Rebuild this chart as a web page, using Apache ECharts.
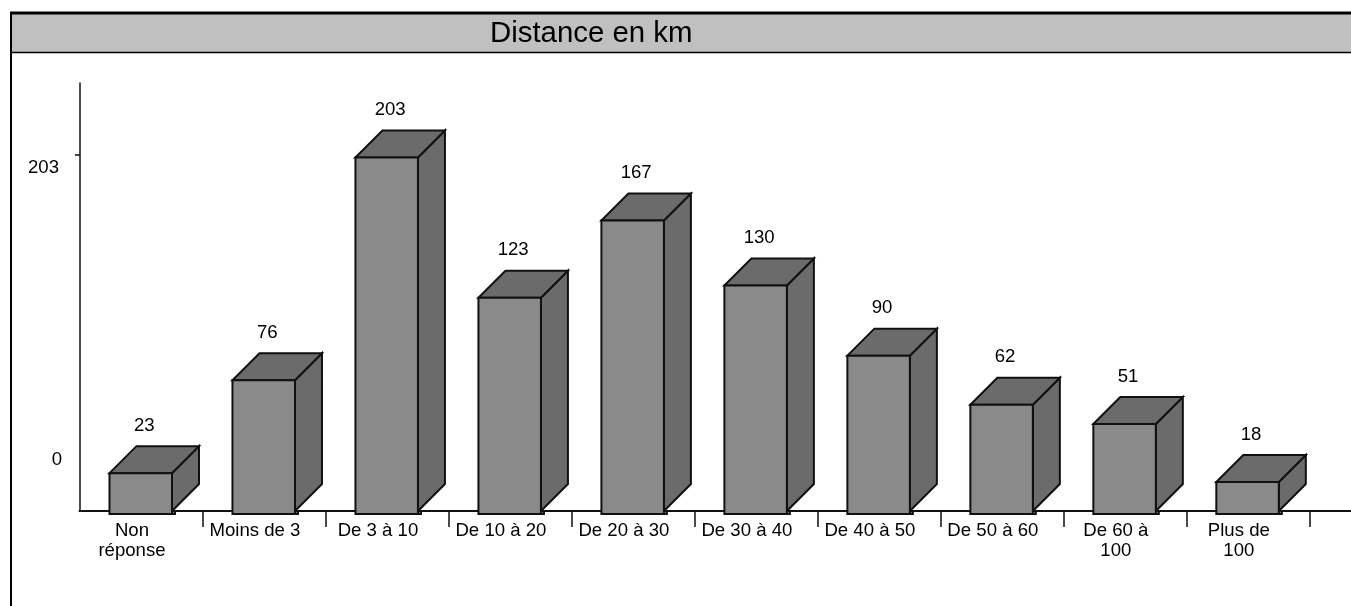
<!DOCTYPE html>
<html>
<head>
<meta charset="utf-8">
<title>Distance en km</title>
<script src="https://cdn.jsdelivr.net/npm/echarts@6/dist/echarts.min.js"></script>
<style>
  html, body { margin: 0; padding: 0; background: #fff; }
  #chart { width: 1351px; height: 606px; }
</style>
</head>
<body>
<div id="chart"></div>
<script>
var titleText = 'Distance en km';
var categories = ['Non\nréponse', 'Moins de 3', 'De 3 à 10', 'De 10 à 20', 'De 20 à 30', 'De 30 à 40', 'De 40 à 50', 'De 50 à 60', 'De 60 à\n100', 'Plus de\n100'];
var values = [23, 76, 203, 123, 167, 130, 90, 62, 51, 18];
var yTicks = [0, 203];

var FONT = '"Liberation Sans", Arial, sans-serif';
var FONT_SIZE = 18.6;
var FRONT = '#8a8a8a';
var SHADE = '#6b6b6b';
var LINE = '#111';

// boite 3D : face avant, dessus, cote droit, petit socle
function renderBox(params, api) {
  var top = api.coord([api.value(0), api.value(1)]);
  var x = top[0] - 31.5;
  var y = top[1] + 2.5;
  var w = 62.5;
  var base = api.coord([api.value(0), 0])[1];
  var bottom = base + 3;
  var d = 27;
  var border = { stroke: LINE, lineWidth: 2, lineJoin: 'miter' };
  return {
    type: 'group',
    children: [
      {
        type: 'rect',
        shape: { x: x + w - 2, y: base, width: 5, height: 3 },
        style: Object.assign({ fill: FRONT }, border)
      },
      {
        type: 'polygon',
        shape: { points: [[x + w, y], [x + w + d, y - d], [x + w + d, base - d], [x + w, base]] },
        style: Object.assign({ fill: SHADE }, border)
      },
      {
        type: 'polygon',
        shape: { points: [[x, y], [x + d, y - d], [x + w + d, y - d], [x + w, y]] },
        style: Object.assign({ fill: SHADE }, border)
      },
      {
        type: 'rect',
        shape: { x: x, y: y, width: w, height: bottom - y },
        style: Object.assign({ fill: FRONT }, border)
      },
      {
        type: 'text',
        style: {
          x: x + w / 2 + 3.5,
          y: y - 47.5,
          text: String(api.value(1)),
          fill: '#000',
          font: FONT_SIZE + 'px ' + FONT,
          align: 'center',
          verticalAlign: 'middle'
        }
      }
    ]
  };
}

var myChart = echarts.init(document.getElementById('chart'), null, { renderer: 'canvas' });

var option = {
  backgroundColor: '#fff',
  animation: false,
  title: {
    text: titleText,
    left: 490,
    top: 19,
    padding: 0,
    textStyle: { fontFamily: FONT, fontSize: 29.4, fontWeight: 'normal', color: '#000' }
  },
  graphic: [
    // bandeau du titre et cadre
    { type: 'rect', shape: { x: 11, y: 13, width: 1340, height: 39 }, style: { fill: '#c0c0c0' } },
    { type: 'line', shape: { x1: 10, y1: 13, x2: 1351, y2: 13 }, style: { stroke: '#000', lineWidth: 3 } },
    { type: 'line', shape: { x1: 11, y1: 13, x2: 11, y2: 606 }, style: { stroke: '#000', lineWidth: 2 } },
    { type: 'line', shape: { x1: 11, y1: 52.5, x2: 1351, y2: 52.5 }, style: { stroke: '#000', lineWidth: 1.5 } },
    // l'axe X continue apres la derniere categorie
    { type: 'line', shape: { x1: 1309, y1: 511, x2: 1351, y2: 511 }, style: { stroke: LINE, lineWidth: 2 } }
  ],
  grid: { left: 79.5, top: 83, width: 1229.8, height: 428, containLabel: false },
  xAxis: {
    type: 'category',
    data: categories,
    axisLine: { show: true, lineStyle: { color: LINE, width: 2 } },
    axisTick: {
      show: true,
      length: 16,
      lineStyle: { color: LINE, width: 1.5 },
      interval: function (index) { return index > 0; }
    },
    axisLabel: {
      interval: 0,
      margin: 10,
      fontFamily: FONT,
      fontSize: FONT_SIZE,
      lineHeight: 20,
      color: '#000',
      padding: [0, 18, 0, 0],
      verticalAlign: 'top'
    }
  },
  yAxis: {
    type: 'value',
    min: 0,
    max: 244,
    offset: -0.5,
    splitLine: { show: false },
    axisLine: { show: true, lineStyle: { color: LINE, width: 1.5 } },
    axisTick: { show: true, length: 5, customValues: [203], lineStyle: { color: LINE, width: 1.5 } },
    axisLabel: {
      customValues: yTicks,
      margin: 18,
      color: '#000',
      fontFamily: FONT,
      fontSize: FONT_SIZE,
      formatter: function (v) {
        return v === 0 ? '{zero|' + v + '}' : '{top|' + v + '}';
      },
      rich: {
        zero: { fontFamily: FONT, fontSize: FONT_SIZE, color: '#000', padding: [0, 0, 102, 0] },
        top: { fontFamily: FONT, fontSize: FONT_SIZE, color: '#000', padding: [25, 3, 0, 0] }
      }
    }
  },
  series: [
    {
      type: 'custom',
      name: 'Distance',
      z: 3,
      clip: false,
      renderItem: renderBox,
      encode: { x: 0, y: 1 },
      data: values.map(function (v, i) { return [i, v]; })
    }
  ]
};

myChart.setOption(option);
</script>
</body>
</html>
